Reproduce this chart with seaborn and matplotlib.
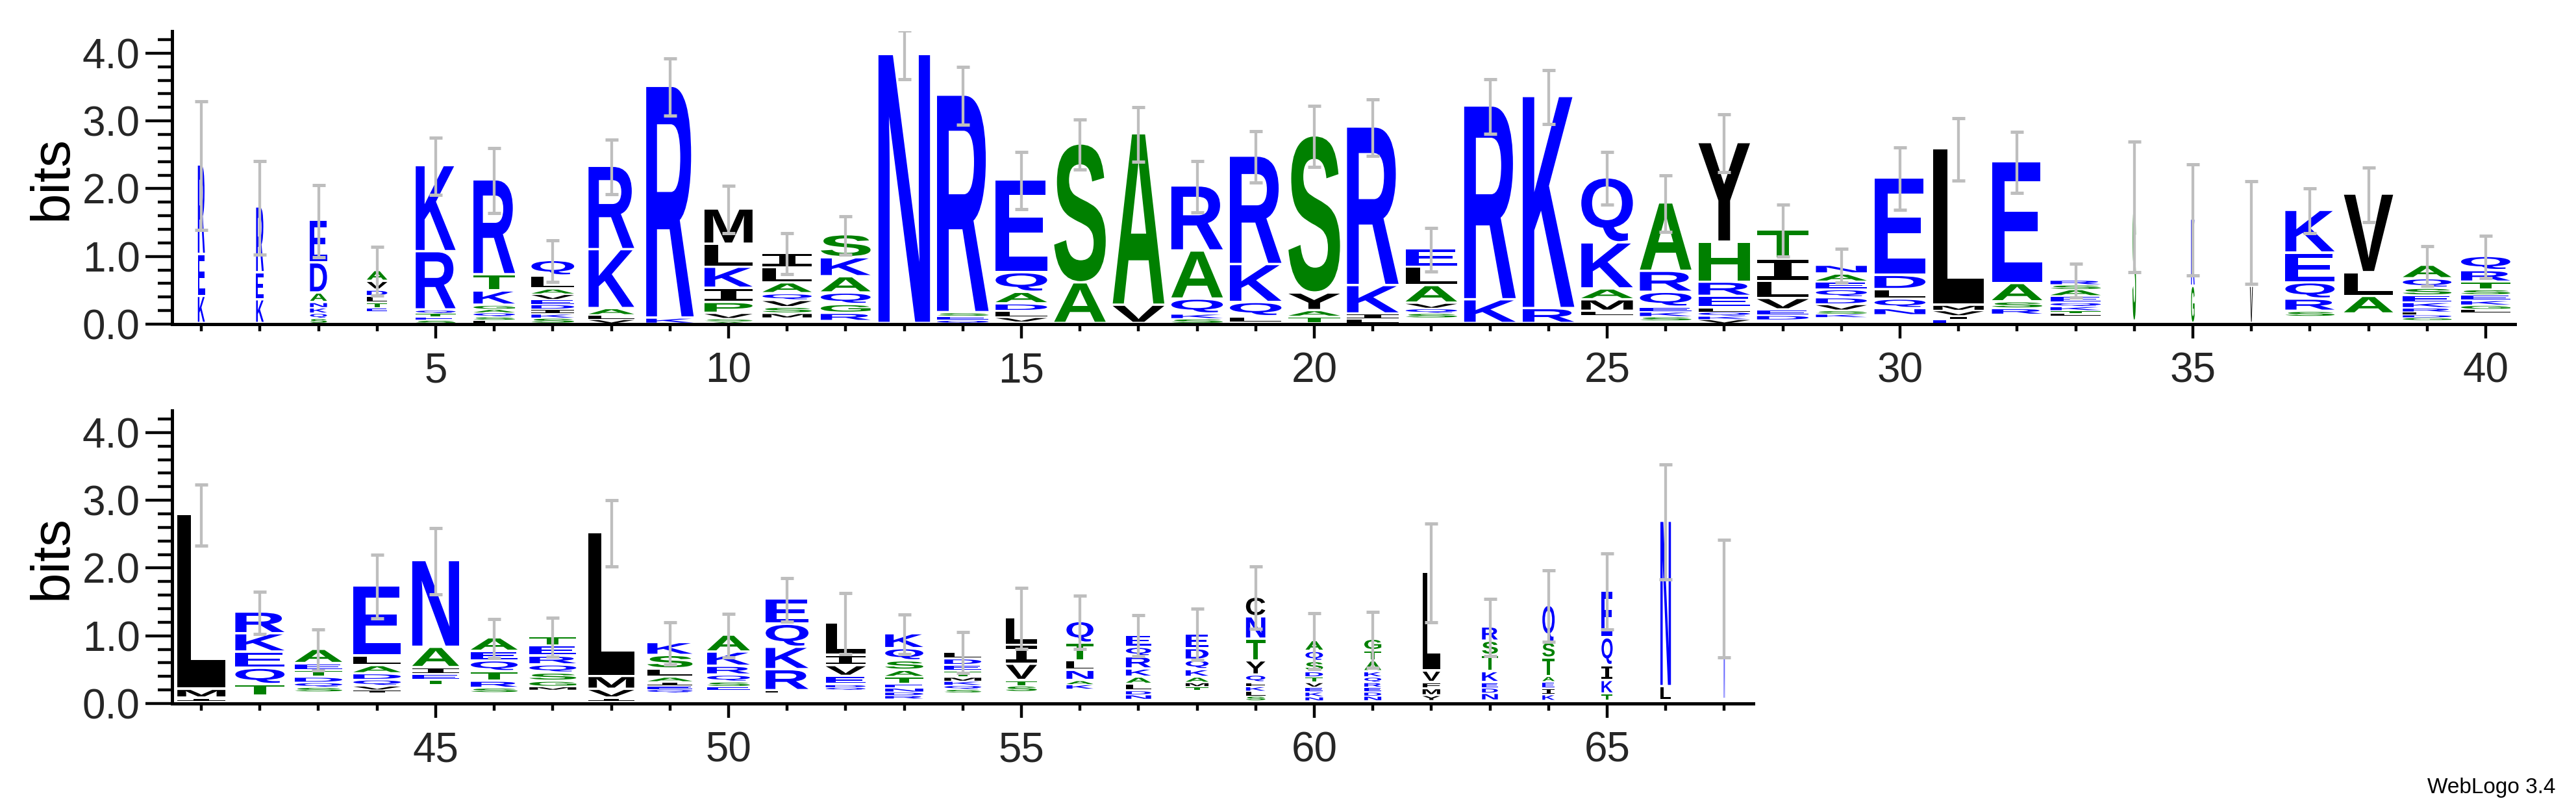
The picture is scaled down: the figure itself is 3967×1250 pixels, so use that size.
import numpy as np
import pandas as pd
import matplotlib
matplotlib.use("Agg")
import matplotlib.pyplot as plt
import seaborn as sns
from matplotlib.textpath import TextPath
from matplotlib.patches import PathPatch
from matplotlib.font_manager import FontProperties
from matplotlib.transforms import Affine2D
from matplotlib.ticker import MultipleLocator, FixedLocator, FormatStrFormatter

# ---------------- data (bottom -> top per position, '-' = empty) ----------------
positions = list(range(1, 68))

stack_letters = [
    "KER", "KER", "SQKNADE", "-ETLDVA", "SETQRK", "LSQAGKTR", "SKIDEVALQ", "VLAKR",
    "KR", "ASVPIKLM", "-MSVQALI", "-RGQAKS", "N", "QESR", "-VLDAQE", "AS", "VA",
    "SKQAR", "-LQKR", "TAYS", "LIKR", "-SQVALE", "KR", "RK", "-LMAKQ", "-SKEQRA",
    "VKQLERHY", "-DEVLIT", "-KSVDQEAN", "-NQLDE", "EIVML", "-RSAE", "-LTKQEASR",
    "-S", "GK", "VL", "-SRQEK", "-ALV", "-GDLRKESQA", "-LGKESTRQ",
    "-IML", "-TQEKR", "-SQDTEA", "-IVQDALE", "-TEIAN", "-SRTQEA", "-MGSQRET",
    "-IVML", "-QEIALSK", "-ESQRKA", "-LRKQE", "-QDEVIL", "-RDNETASQK",
    "-SQKMTEDL", "-STVIL", "-KANLTQ", "-NDLAKRQE", "-TMAKQDE", "-SLKFQYTNC",
    "-NKEVTDSQA", "-NDERQKATG", "-YMFVL", "-NDEKTSR", "-KIEATSQ", "-TKIQE",
    "-LN", "-N",
]

stack_heights = [
    [0.40, 0.62, 1.32],
    [0.35, 0.40, 0.97],
    [0.075, 0.075, 0.08, 0.08, 0.14, 0.445, 0.625],
    [0.18, 0.05, 0.08, 0.096, 0.086, 0.13, 0.16],
    [0.05, 0.05, 0.05, 0.05, 0.86, 1.27],
    [0.05, 0.05, 0.06, 0.05, 0.06, 0.21, 0.24, 1.40],
    [0.08, 0.06, 0.07, 0.07, 0.07, 0.08, 0.08, 0.19, 0.23],
    [0.06, 0.06, 0.10, 0.87, 1.23],
    [0.08, 3.42],
    [0.03, 0.04, 0.08, 0.16, 0.21, 0.31, 0.34, 0.52],
    [0.08, 0.07, 0.09, 0.10, 0.10, 0.16, 0.22, 0.22],
    [0.03, 0.12, 0.13, 0.17, 0.24, 0.28, 0.34],
    [3.97],
    [0.05, 0.06, 0.05, 3.21],
    [0.02, 0.07, 0.09, 0.11, 0.17, 0.29, 1.37],
    [0.60, 2.05],
    [0.27, 2.53],
    [0.07, 0.07, 0.22, 0.71, 0.96],
    [0.02, 0.08, 0.21, 0.56, 1.60],
    [0.10, 0.09, 0.26, 2.32],
    [0.07, 0.07, 0.42, 2.34],
    [0.08, 0.07, 0.07, 0.08, 0.26, 0.27, 0.27],
    [0.35, 2.86],
    [0.22, 3.13],
    [0.12, 0.06, 0.17, 0.16, 0.68, 0.96],
    [0.04, 0.06, 0.07, 0.07, 0.22, 0.31, 1.01],
    [0.06, 0.05, 0.06, 0.06, 0.17, 0.21, 0.59, 1.47],
    [0.05, 0.07, 0.08, 0.17, 0.25, 0.33, 0.43],
    [0.09, 0.05, 0.05, 0.09, 0.10, 0.12, 0.11, 0.12, 0.13],
    [0.12, 0.10, 0.14, 0.14, 0.21, 1.44],
    [0.06, 0.05, 0.08, 0.08, 2.31],
    [0.13, 0.09, 0.10, 0.27, 1.80],
    [0.12, 0.03, 0.04, 0.06, 0.06, 0.09, 0.10, 0.07, 0.07],
    [0.03, 1.70],
    [0.55, 0.99],
    [0.55, 0.80],
    [0.10, 0.08, 0.18, 0.24, 0.44, 0.63],
    [0.14, 0.26, 0.35, 1.16],
    [0.05, 0.04, 0.04, 0.04, 0.06, 0.08, 0.10, 0.11, 0.14, 0.20],
    [0.16, 0.05, 0.06, 0.07, 0.08, 0.08, 0.11, 0.17, 0.21],
    [0.03, 0.04, 0.13, 2.58],
    [0.10, 0.17, 0.24, 0.24, 0.27, 0.32],
    [0.16, 0.07, 0.07, 0.08, 0.10, 0.10, 0.21],
    [0.15, 0.04, 0.06, 0.09, 0.09, 0.12, 0.14, 1.04],
    [0.27, 0.07, 0.08, 0.10, 0.30, 1.28],
    [0.15, 0.07, 0.10, 0.14, 0.16, 0.14, 0.20],
    [0.19, 0.05, 0.08, 0.12, 0.12, 0.13, 0.15, 0.14],
    [0.03, 0.04, 0.13, 0.19, 2.12],
    [0.15, 0.05, 0.05, 0.06, 0.07, 0.12, 0.20, 0.19],
    [0.19, 0.05, 0.07, 0.10, 0.13, 0.21, 0.25],
    [0.15, 0.03, 0.31, 0.33, 0.34, 0.37],
    [0.19, 0.04, 0.04, 0.12, 0.16, 0.15, 0.48],
    [0.06, 0.05, 0.05, 0.06, 0.06, 0.10, 0.10, 0.14, 0.18, 0.22],
    [0.15, 0.05, 0.06, 0.06, 0.06, 0.09, 0.09, 0.09, 0.10],
    [0.16, 0.09, 0.08, 0.24, 0.28, 0.41],
    [0.20, 0.07, 0.06, 0.15, 0.14, 0.26, 0.32],
    [0.05, 0.07, 0.06, 0.10, 0.10, 0.12, 0.18, 0.14, 0.18],
    [0.18, 0.06, 0.06, 0.08, 0.11, 0.14, 0.17, 0.22],
    [0.03, 0.07, 0.07, 0.07, 0.06, 0.11, 0.21, 0.32, 0.33, 0.29],
    [0.03, 0.06, 0.07, 0.07, 0.07, 0.08, 0.08, 0.15, 0.15, 0.16],
    [0.03, 0.07, 0.06, 0.07, 0.07, 0.08, 0.08, 0.16, 0.15, 0.17],
    [0.03, 0.08, 0.10, 0.09, 0.17, 1.46],
    [0.03, 0.11, 0.08, 0.08, 0.16, 0.24, 0.21, 0.21],
    [0.03, 0.09, 0.09, 0.10, 0.08, 0.27, 0.23, 0.55],
    [0.03, 0.10, 0.20, 0.22, 0.41, 0.69],
    [0.03, 0.21, 2.44],
    [0.05, 1.50],
]

stack_widths = [
    0.12, 0.13, 0.29, 0.35, 0.68, 0.71, 0.73, 0.78, 0.81, 0.82,
    0.84, 0.85, 0.88, 0.88, 0.88, 0.88, 0.88, 0.88, 0.88, 0.88,
    0.88, 0.88, 0.88, 0.88, 0.88, 0.88, 0.88, 0.88, 0.87, 0.87,
    0.86, 0.86, 0.86, 0.06, 0.06, 0.05, 0.84, 0.84, 0.83, 0.84,
    0.82, 0.84, 0.81, 0.81, 0.80, 0.80, 0.80, 0.78, 0.77, 0.73,
    0.73, 0.68, 0.65, 0.63, 0.53, 0.46, 0.43, 0.39, 0.33, 0.30,
    0.29, 0.30, 0.27, 0.21, 0.19, 0.18, 0.02,
]

error_half = [
    0.95, 0.69, 0.53, 0.36, 0.42, 0.48, 0.31, 0.40, 0.42, 0.35,
    0.30, 0.28, 0.36, 0.43, 0.42, 0.37, 0.40, 0.38, 0.38, 0.45,
    0.42, 0.32, 0.40, 0.40, 0.39, 0.42, 0.43, 0.38, 0.25, 0.46,
    0.46, 0.45, 0.25, 0.96, 0.82, 0.76, 0.33, 0.40, 0.29, 0.31,
    0.45, 0.31, 0.30, 0.47, 0.49, 0.29, 0.29, 0.49, 0.31, 0.32,
    0.32, 0.45, 0.29, 0.30, 0.45, 0.39, 0.30, 0.38, 0.46, 0.41,
    0.41, 0.73, 0.42, 0.53, 0.56, 0.85, 0.87,
]

row_ranges = [(1, 40), (41, 67)]
y_max = 4.32
y_label = "bits"
credit = "WebLogo 3.4"

color_groups = {
    "RKDENQ": "#0000FF",
    "SGHTAP": "#008000",
    "YVMCLFIW": "#000000",
}

# ---------------- style ----------------
sns.set_theme(style="ticks")
plt.rcParams["font.family"] = ["Liberation Sans", "DejaVu Sans"]

W, H, DPI = 3967, 1250, 100
fig = plt.figure(figsize=(W / DPI, H / DPI), dpi=DPI)

letter_font = FontProperties(family="Liberation Sans", weight="bold")
serif_i_font = FontProperties(family="DejaVu Sans Mono", weight="bold")

glyph_cache = {}


def glyph(ch):
    if ch not in glyph_cache:
        fp = serif_i_font if ch == "I" else letter_font
        p = TextPath((0, 0), ch, size=1, prop=fp)
        glyph_cache[ch] = (p, p.get_extents())
    return glyph_cache[ch]


def letter_color(ch):
    for k, v in color_groups.items():
        if ch in k:
            return v
    return "#000000"


# build a tidy table of all letter cells
rows = []
for pos, lets, hts, w in zip(positions, stack_letters, stack_heights, stack_widths):
    assert len(lets) == len(hts), pos
    base = 0.0
    for ch, h in zip(lets, hts):
        rows.append(dict(pos=pos, letter=ch, y0=base, h=h, w=w))
        base += h
cells = pd.DataFrame(rows)
tops = cells.groupby("pos")["h"].sum().reindex(positions).to_numpy()
err_df = pd.DataFrame(dict(pos=positions, top=tops, err=error_half))

ax_w_px_per_pos = 3608 / 40.0
axes_specs = []
ax_left = 265 / W
for (lo, hi), zero_y in zip(row_ranges, [499, 1083]):
    n = hi - lo + 1
    width = n * ax_w_px_per_pos / W
    bottom = (H - zero_y) / H
    height = y_max * 104.3 / H
    axes_specs.append((lo, hi, [ax_left, bottom, width, height]))

for lo, hi, rect in axes_specs:
    ax = fig.add_axes(rect)
    ax.set_xlim(lo - 0.5, hi + 0.5)
    ax.set_ylim(0, y_max)
    sub = cells[(cells.pos >= lo) & (cells.pos <= hi)]
    for r in sub.itertuples():
        if r.letter == "-" or r.h <= 0:
            continue
        path, bb = glyph(r.letter)
        pad = min(0.035, 0.28 * r.h)
        gh = r.h - pad
        tr = (Affine2D()
              .translate(-bb.x0, -bb.y0)
              .scale(r.w / bb.width, gh / bb.height)
              .translate(r.pos - r.w / 2.0, r.y0 + pad))
        patch = PathPatch(tr.transform_path(path), facecolor=letter_color(r.letter),
                          edgecolor="none", lw=0, zorder=2)
        ax.add_patch(patch)
    e = err_df[(err_df.pos >= lo) & (err_df.pos <= hi)]
    ax.errorbar(e.pos, e.top, yerr=e.err, fmt="none", ecolor="#BEBEBE",
                elinewidth=3.1, capsize=7.5, capthick=3.6, zorder=4)

    major = [p for p in range(lo, hi + 1) if p % 5 == 0]
    minor = [p for p in range(lo, hi + 1) if p % 5 != 0]
    ax.xaxis.set_major_locator(FixedLocator(major))
    ax.xaxis.set_minor_locator(FixedLocator(minor))
    ax.yaxis.set_major_locator(MultipleLocator(1.0))
    ax.yaxis.set_minor_locator(MultipleLocator(0.2))
    ax.yaxis.set_major_formatter(FormatStrFormatter("%.1f"))
    ax.tick_params(axis="x", which="major", direction="out", length=15.5, width=3.2,
                   pad=15, labelsize=46, color="black")
    ax.tick_params(axis="x", which="minor", direction="out", length=8, width=3.2,
                   color="black")
    ax.tick_params(axis="y", which="major", direction="out", length=29.5, width=3.2,
                   pad=6, labelsize=46, color="black")
    ax.tick_params(axis="y", which="minor", direction="out", length=15.8, width=3.2,
                   color="black")
    sns.despine(ax=ax)
    for s in ("left", "bottom"):
        ax.spines[s].set_linewidth(3.6)
        ax.spines[s].set_color("black")
    ax.set_facecolor("white")
    ax.grid(False)
    ax.set_ylabel(y_label, fontsize=60, color="black")
    ax.yaxis.set_label_coords((120 - 265) / (rect[2] * W), 0.5)

fig.text(3935 / W, 1 - 1212 / H, credit, ha="right", va="center", fontsize=24,
         color="black")

fig.savefig("out.png", dpi=DPI, facecolor="white")
